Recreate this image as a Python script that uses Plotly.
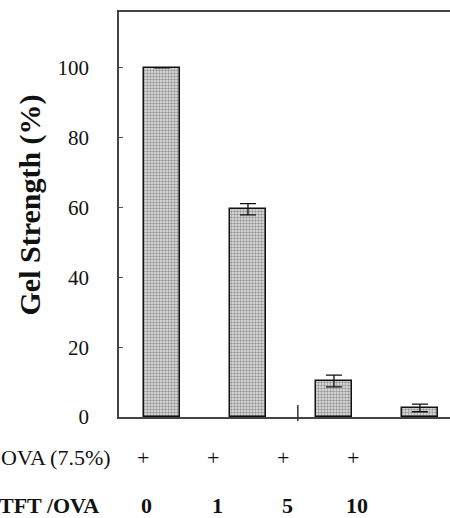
import plotly.graph_objects as go

categories = ["A", "B", "C", "D"]
gel_strength = [100, 59.5, 10.3, 2.6]
gel_error = [None, 1.6, 1.7, 1.1]
ova_labels = ["+", "+", "+", "+"]
tft_labels = ["0", "1", "5", "10"]
y_ticks = [0, 20, 40, 60, 80, 100]

SERIF = "Liberation Serif, Times New Roman, serif"
W, H = 450, 518
L, R, T, B = 119, 0, 12, 101
PW, PH = W - L - R, H - T - B


def px(wx):
    return (wx - L) / PW


def py(wy):
    return (H - B - wy) / PH


fig = go.Figure()
fig.add_trace(go.Bar(
    x=list(range(len(categories))),
    y=gel_strength,
    width=0.42,
    marker=dict(
        color="#d0d0d0",
        line=dict(color="#111", width=1.5),
        pattern=dict(shape=".", fgcolor="#444", bgcolor="#e6e6e6", size=3, solidity=0.5),
    ),
    error_y=dict(type="data", array=gel_error, visible=True, color="#111",
                 thickness=1.3, width=8),
    showlegend=False,
))

fig.update_layout(
    width=W, height=H,
    margin=dict(l=L, r=R, t=T, b=B),
    paper_bgcolor="white", plot_bgcolor="white",
    font=dict(family=SERIF, color="#111"),
    bargap=0,
)
fig.update_xaxes(
    range=[-0.5, 3.35], showticklabels=False, ticks="", showgrid=False,
    zeroline=False, showline=True, linecolor="#444", linewidth=2, mirror=True,
)
fig.update_yaxes(
    range=[0, 116], tickvals=y_ticks, ticks="inside", ticklen=4, tickcolor="#555",
    tickfont=dict(family=SERIF, size=21, color="#111"), ticklabelstandoff=24,
    showgrid=False, zeroline=False, showline=True, linecolor="#444", linewidth=1.5,
)

# axis division tick crossing baseline
fig.add_shape(type="line", xref="x", yref="paper", x0=1.58, x1=1.58, y0=py(421), y1=py(405),
              line=dict(color="#333", width=1.5))

# y title
fig.add_annotation(text="<b>Gel Strength (%)</b>", xref="paper", yref="paper",
                   x=px(29), y=py(205.5), xanchor="center", yanchor="middle", textangle=-90,
                   showarrow=False, font=dict(family=SERIF, size=30, color="#111"))

# bottom rows
fig.add_annotation(text="OVA (7.5%)", xref="paper", yref="paper", x=px(113), y=py(457),
                   xanchor="right", yanchor="middle", showarrow=False,
                   font=dict(family=SERIF, size=22, color="#111"))
fig.add_annotation(text="<b>TFT /OVA</b>", xref="paper", yref="paper", x=px(101), y=py(505),
                   xanchor="right", yanchor="middle", showarrow=False,
                   font=dict(family=SERIF, size=22, color="#111"))
for i, (p, t) in enumerate(zip(ova_labels, tft_labels)):
    xpos = -0.22 + i * 0.815
    fig.add_annotation(text=p, xref="x", yref="paper", x=xpos, y=py(457),
                       xanchor="center", yanchor="middle", showarrow=False,
                       font=dict(family=SERIF, size=22, color="#111"))
    fig.add_annotation(text="<b>" + t + "</b>", xref="x", yref="paper", x=xpos + 0.045, y=py(505),
                       xanchor="center", yanchor="middle", showarrow=False,
                       font=dict(family=SERIF, size=22, color="#111"))

fig.write_html(
    "out.html",
    config={"displayModeBar": False},
    post_script="document.body.style.margin='0';document.body.style.overflow='hidden';"
                "document.documentElement.style.overflow='hidden';",
)
